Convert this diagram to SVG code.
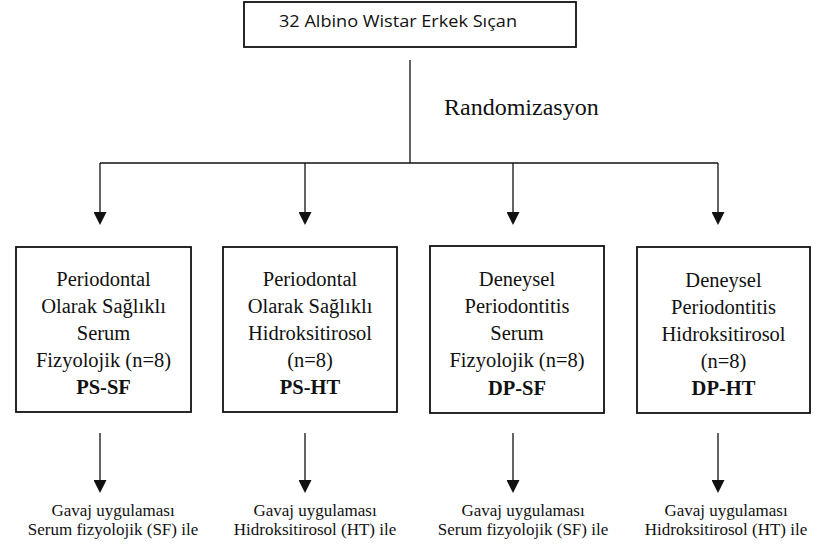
<svg xmlns="http://www.w3.org/2000/svg" width="817" height="556" viewBox="0 0 817 556">
<style>
.box{fill:#fff;stroke:#111;stroke-width:1.8}
.ln{fill:none;stroke:#111;stroke-width:1.3}
.t{font-family:"Liberation Serif","Times New Roman",serif;font-size:20.5px;fill:#111;text-anchor:middle}
.b{font-weight:bold}
.s{font-family:"Liberation Serif","Times New Roman",serif;font-size:17px;fill:#111;text-anchor:middle}
.top{font-family:"Open Sans","Liberation Sans",sans-serif;font-size:16.5px;fill:#111}
.r{font-family:"Liberation Serif","Times New Roman",serif;font-size:24px;fill:#111}
</style>
<defs>
<marker id="ah" viewBox="0 0 13 13" refX="1" refY="6.5" markerWidth="13" markerHeight="13" markerUnits="userSpaceOnUse" orient="auto">
<path d="M0,0 L13,6.5 L0,13 z" fill="#111"/>
</marker>
</defs>
<g id="start">
<rect class="box" x="244" y="2" width="332" height="45"/>
<text class="top" x="279" y="27" textLength="238" lengthAdjust="spacingAndGlyphs">32 Albino Wistar Erkek Sıçan</text>
</g>
<text class="r" x="444" y="115">Randomizasyon</text>
<g id="connectors">
<path class="ln" d="M410,60 V163"/>
<path class="ln" d="M100,163 H718"/>
<path class="ln" d="M100,163 V213" marker-end="url(#ah)"/>
<path class="ln" d="M305,163 V213" marker-end="url(#ah)"/>
<path class="ln" d="M513,163 V213" marker-end="url(#ah)"/>
<path class="ln" d="M718,163 V213" marker-end="url(#ah)"/>
<path class="ln" d="M100,433 V481" marker-end="url(#ah)"/>
<path class="ln" d="M305,433 V481" marker-end="url(#ah)"/>
<path class="ln" d="M513,433 V481" marker-end="url(#ah)"/>
<path class="ln" d="M718,433 V481" marker-end="url(#ah)"/>
</g>
<g id="ps-sf">
<rect class="box" x="16" y="247" width="175" height="165"/>
<text class="t" x="103.5" y="286">Periodontal</text>
<text class="t" x="103.5" y="313">Olarak Sağlıklı</text>
<text class="t" x="103.5" y="340">Serum</text>
<text class="t" x="103.5" y="367">Fizyolojik (n=8)</text>
<text class="t b" x="103.5" y="394">PS-SF</text>
</g>
<g id="ps-ht">
<rect class="box" x="223" y="247" width="174" height="165"/>
<text class="t" x="310" y="286">Periodontal</text>
<text class="t" x="310" y="313">Olarak Sağlıklı</text>
<text class="t" x="310" y="340">Hidroksitirosol</text>
<text class="t" x="310" y="367">(n=8)</text>
<text class="t b" x="310" y="394">PS-HT</text>
</g>
<g id="dp-sf">
<rect class="box" x="430" y="246" width="174" height="167"/>
<text class="t" x="517" y="286">Deneysel</text>
<text class="t" x="517" y="313">Periodontitis</text>
<text class="t" x="517" y="340">Serum</text>
<text class="t" x="517" y="367">Fizyolojik (n=8)</text>
<text class="t b" x="517" y="395">DP-SF</text>
</g>
<g id="dp-ht">
<rect class="box" x="637" y="247" width="173" height="166"/>
<text class="t" x="723.5" y="287">Deneysel</text>
<text class="t" x="723.5" y="314">Periodontitis</text>
<text class="t" x="723.5" y="341">Hidroksitirosol</text>
<text class="t" x="723.5" y="368">(n=8)</text>
<text class="t b" x="723.5" y="395">DP-HT</text>
</g>
<g id="gavaj-sf-1">
<text class="s" x="113" y="516">Gavaj uygulaması</text>
<text class="s" x="113" y="535">Serum fizyolojik (SF) ile</text>
</g>
<g id="gavaj-ht-1">
<text class="s" x="315" y="516">Gavaj uygulaması</text>
<text class="s" x="315" y="535">Hidroksitirosol (HT) ile</text>
</g>
<g id="gavaj-sf-2">
<text class="s" x="523" y="516">Gavaj uygulaması</text>
<text class="s" x="523" y="535">Serum fizyolojik (SF) ile</text>
</g>
<g id="gavaj-ht-2">
<text class="s" x="726" y="516">Gavaj uygulaması</text>
<text class="s" x="726" y="535">Hidroksitirosol (HT) ile</text>
</g>
</svg>
